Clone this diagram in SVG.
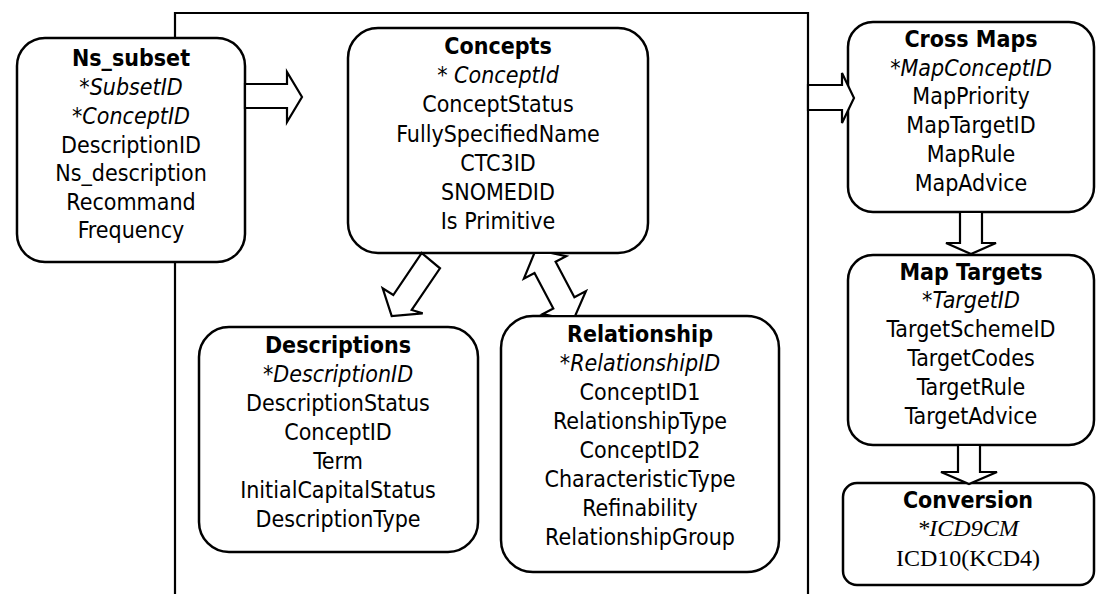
<svg xmlns="http://www.w3.org/2000/svg" width="1096" height="594" viewBox="0 0 1096 594">
<style>
text{font-family:"DejaVu Sans Condensed","DejaVu Sans",sans-serif;font-stretch:condensed;font-size:23px;fill:#000;text-anchor:middle}
.t{font-weight:bold}
.k{font-style:italic}
.s{font-family:"Liberation Serif",serif;font-stretch:normal;font-size:24px}
.box{fill:#fff;stroke:#000;stroke-width:2.5}
.arr{fill:#fff;stroke:#000;stroke-width:2.2;stroke-linejoin:miter}
.frame{fill:none;stroke:#000;stroke-width:2.2}
</style>
<path class="frame" d="M175,594 V13 H808 V594"/>
<g id="ns_subset">
<rect class="box" x="17" y="38" width="228" height="224" rx="28"/>
<text x="131" y="66" class="t">Ns_subset</text>
<text x="131" y="95" class="k">*SubsetID</text>
<text x="131" y="124" class="k">*ConceptID</text>
<text x="131" y="153">DescriptionID</text>
<text x="131" y="181">Ns_description</text>
<text x="131" y="210">Recommand</text>
<text x="131" y="238">Frequency</text>
</g>
<g id="concepts">
<rect class="box" x="348" y="28" width="300" height="225" rx="30"/>
<text x="498" y="54" class="t">Concepts</text>
<text x="498" y="83" class="k">* ConceptId</text>
<text x="498" y="112">ConceptStatus</text>
<text x="498" y="142">FullySpecifiedName</text>
<text x="498" y="171">CTC3ID</text>
<text x="498" y="200">SNOMEDID</text>
<text x="498" y="229">Is Primitive</text>
</g>
<g id="cross_maps">
<rect class="box" x="848" y="22" width="246" height="190" rx="25"/>
<text x="971" y="47" class="t">Cross Maps</text>
<text x="971" y="76" class="k">*MapConceptID</text>
<text x="971" y="104">MapPriority</text>
<text x="971" y="133">MapTargetID</text>
<text x="971" y="162">MapRule</text>
<text x="971" y="191">MapAdvice</text>
</g>
<g id="map_targets">
<rect class="box" x="848" y="255" width="246" height="190" rx="25"/>
<text x="971" y="280" class="t">Map Targets</text>
<text x="971" y="308" class="k">*TargetID</text>
<text x="971" y="337">TargetSchemeID</text>
<text x="971" y="366">TargetCodes</text>
<text x="971" y="395">TargetRule</text>
<text x="971" y="424">TargetAdvice</text>
</g>
<g id="conversion">
<rect class="box" x="843" y="483" width="251" height="102" rx="14"/>
<text x="968" y="508" class="t">Conversion</text>
<text x="968" y="536" class="s k">*ICD9CM</text>
<text x="968" y="566" class="s">ICD10(KCD4)</text>
</g>
<g id="descriptions">
<rect class="box" x="199" y="327" width="279" height="225" rx="30"/>
<text x="338" y="353" class="t">Descriptions</text>
<text x="338" y="382" class="k">*DescriptionID</text>
<text x="338" y="411">DescriptionStatus</text>
<text x="338" y="440">ConceptID</text>
<text x="338" y="469">Term</text>
<text x="338" y="498">InitialCapitalStatus</text>
<text x="338" y="527">DescriptionType</text>
</g>
<g id="relationship">
<rect class="box" x="501" y="316" width="278" height="256" rx="32"/>
<text x="640" y="342" class="t">Relationship</text>
<text x="640" y="371" class="k">*RelationshipID</text>
<text x="640" y="400">ConceptID1</text>
<text x="640" y="429">RelationshipType</text>
<text x="640" y="458">ConceptID2</text>
<text x="640" y="487">CharacteristicType</text>
<text x="640" y="516">Refinability</text>
<text x="640" y="545">RelationshipGroup</text>
</g>
<g id="connectors">
<polygon class="arr" points="245,84 287,84 287,72 302,97 287,122 287,108 245,108"/>
<polygon class="arr" points="808,85 842,85 842,73 854,98 842,123 842,110 808,110"/>
<polygon class="arr" points="960,212 982,212 982,243 996,243 971,254 946,243 960,243"/>
<polygon class="arr" points="958,445 980,445 980,472 997,472 969,484 941,472 958,472"/>
<polygon class="arr" points="421.7,253 440,268.3 411.7,310 422.7,313.3 391.7,316 382.7,288.3 393.3,295"/>
<polygon class="arr" points="534.4,253 551,253 566.2,256.2 555.6,261.8 574.4,297.2 585.9,291.1 575.1,316 551.9,316 542.7,314.1 553.3,308.5 534.5,273.1 523.9,278.7"/>
</g>
</svg>
